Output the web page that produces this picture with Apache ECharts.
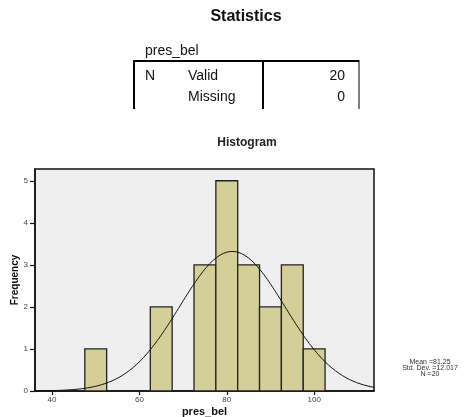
<!DOCTYPE html>
<html>
<head>
<meta charset="utf-8">
<script src="https://cdn.jsdelivr.net/npm/echarts@6/dist/echarts.min.js"></script>
<style>
  html, body { margin: 0; padding: 0; background: #fff; }
  #chart { width: 469px; height: 417px; }
</style>
</head>
<body>
<div id="chart"></div>
<script>
// Histogram of pres_bel: bin centres and their frequencies
const binCenters = [50, 65, 75, 80, 85, 90, 95, 100];
const binCounts = [1, 2, 3, 5, 3, 2, 3, 1];
const binWidth = 5;

// Summary statistics shown in the table and beside the histogram
const statN = 20;
const statMissing = 0;
const statMean = 81.25;
const statSD = 12.017;

// Axis ticks
const xTicks = [40, 60, 80, 100];
const yTicks = [0, 1, 2, 3, 4, 5];
const xMin = 36.1, xMax = 113.7;
const yMin = 0, yMax = 5.28;

// Fitted normal curve, scaled to counts per bin
const curve = [];
for (let x = xMin; x <= xMax + 1e-9; x += 0.4) {
  const z = (x - statMean) / statSD;
  const y = statN * binWidth * Math.exp(-0.5 * z * z) / (statSD * Math.sqrt(2 * Math.PI));
  curve.push([x, y]);
}

const bars = binCenters.map((c, i) => [c, binCounts[i]]);

const FONT = '"Liberation Sans", Arial, sans-serif';

const chart = echarts.init(document.getElementById('chart'), null, { renderer: 'canvas' });

const tableLine = { stroke: '#000', lineWidth: 2 };

chart.setOption({
  animation: false,
  backgroundColor: '#fff',
  grid: {
    left: 35, top: 169, right: 95, bottom: 26,
    outerBoundsMode: 'none', containLabel: false,
    show: true, backgroundColor: '#efefef', borderColor: '#111', borderWidth: 1.5
  },
  xAxis: {
    type: 'value', min: xMin, max: xMax,
    name: 'pres_bel', nameLocation: 'middle', nameGap: 15, nameMoveOverlap: false,
    nameTextStyle: { fontFamily: FONT, fontSize: 11, fontWeight: 'bold', color: '#111' },
    axisLine: { show: true, lineStyle: { color: '#111', width: 1.5 } },
    axisTick: { show: true, length: 4, customValues: xTicks, lineStyle: { color: '#111', width: 1.2 } },
    axisLabel: { customValues: xTicks, fontFamily: FONT, fontSize: 8, color: '#444', margin: 5 },
    splitLine: { show: false }
  },
  yAxis: {
    type: 'value', min: yMin, max: yMax,
    name: 'Frequency', nameLocation: 'middle', nameGap: 15, nameRotate: 90, nameMoveOverlap: false,
    nameTextStyle: { fontFamily: FONT, fontSize: 10, fontWeight: 'bold', color: '#111' },
    axisLine: { show: true, lineStyle: { color: '#111', width: 1.5 } },
    axisTick: { show: true, length: 5, customValues: yTicks, lineStyle: { color: '#111', width: 1.2 } },
    axisLabel: { customValues: yTicks, fontFamily: FONT, fontSize: 8, color: '#444', margin: 7 },
    splitLine: { show: false }
  },
  series: [
    {
      type: 'custom',
      data: bars,
      encode: { x: 0, y: 1 },
      clip: true,
      renderItem: function (params, api) {
        const c = api.value(0), n = api.value(1);
        const p0 = api.coord([c - binWidth / 2, n]);
        const p1 = api.coord([c + binWidth / 2, 0]);
        return {
          type: 'rect',
          shape: { x: p0[0], y: p0[1], width: p1[0] - p0[0], height: p1[1] - p0[1] },
          style: { fill: '#d4cf99', stroke: '#222', lineWidth: 1.3 }
        };
      },
      z: 2
    },
    {
      type: 'line',
      data: curve,
      showSymbol: false,
      smooth: false,
      clip: true,
      lineStyle: { color: '#111', width: 1 },
      z: 3
    }
  ],
  graphic: [
    { type: 'text', x: 246, y: 17,
      style: { text: 'Statistics', font: 'bold 16px ' + FONT, fill: '#111', align: 'center', verticalAlign: 'middle' } },
    { type: 'text', x: 145, y: 44,
      style: { text: 'pres_bel', font: '14px ' + FONT, fill: '#111' } },
    { type: 'line', shape: { x1: 133, y1: 61, x2: 359, y2: 61 }, style: tableLine },
    { type: 'line', shape: { x1: 134, y1: 60, x2: 134, y2: 109 }, style: tableLine },
    { type: 'line', shape: { x1: 263, y1: 60, x2: 263, y2: 109 }, style: tableLine },
    { type: 'line', shape: { x1: 359, y1: 60, x2: 359, y2: 109 }, style: { stroke: '#000', lineWidth: 1 } },
    { type: 'text', x: 145, y: 69,
      style: { text: 'N', font: '14px ' + FONT, fill: '#111' } },
    { type: 'text', x: 188, y: 69,
      style: { text: 'Valid', font: '14px ' + FONT, fill: '#111' } },
    { type: 'text', x: 188, y: 90,
      style: { text: 'Missing', font: '14px ' + FONT, fill: '#111' } },
    { type: 'text', x: 345, y: 69,
      style: { text: String(statN), font: '14px ' + FONT, fill: '#111', align: 'right' } },
    { type: 'text', x: 345, y: 90,
      style: { text: String(statMissing), font: '14px ' + FONT, fill: '#111', align: 'right' } },
    { type: 'text', x: 247, y: 143,
      style: { text: 'Histogram', font: 'bold 12px ' + FONT, fill: '#222', align: 'center', verticalAlign: 'middle' } },
    { type: 'text', x: 430, y: 368,
      style: {
        text: 'Mean =' + statMean + '\nStd. Dev. =' + statSD + '\nN =' + statN,
        font: '7px ' + FONT, lineHeight: 5.6, fill: '#333', align: 'center', verticalAlign: 'middle'
      } }
  ]
});
</script>
</body>
</html>
